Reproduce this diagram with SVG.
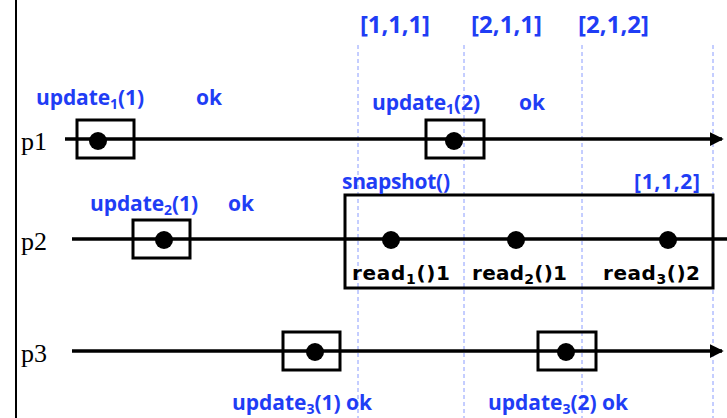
<svg xmlns="http://www.w3.org/2000/svg" width="727" height="418" viewBox="0 0 727 418">
<style>
.proc{stroke:#000;stroke-width:3.5;fill:none}
.box{stroke:#000;stroke-width:3;fill:none}
.dot{fill:#000}
.dash{stroke:#8a9cff;stroke-width:1;stroke-dasharray:4,3}
.blue{font-family:"Open Sans","DejaVu Sans",sans-serif;font-weight:bold;font-size:21px;fill:#1f3df5}
.vec{font-family:"Open Sans","DejaVu Sans",sans-serif;font-weight:bold;font-size:24px;fill:#1f3df5}
.rd{font-family:"DejaVu Sans","Liberation Sans",sans-serif;font-weight:bold;font-size:20px;fill:#000}
.pl{font-family:"Liberation Serif","Times New Roman",serif;font-size:26px;fill:#000}
.sub{font-size:14px}
</style>
<defs>
<marker id="arr" markerWidth="4" markerHeight="4" refX="3.5" refY="2" orient="auto" markerUnits="strokeWidth">
<path d="M0,0 L4,2 L0,4 z" fill="#000"/>
</marker>
</defs>
<rect width="727" height="418" fill="#fff"/>
<line x1="16" y1="0" x2="16" y2="418" stroke="#000" stroke-width="2"/>
<g id="timelines">
<line class="dash" x1="358" y1="45" x2="358" y2="418"/>
<line class="dash" x1="464" y1="45" x2="464" y2="418"/>
<line class="dash" x1="582" y1="45" x2="582" y2="418"/>
<line class="dash" x1="713" y1="45" x2="713" y2="418"/>
<text class="vec" x="360" y="33" textLength="70" lengthAdjust="spacing">[1,1,1]</text>
<text class="vec" x="471" y="33" textLength="71" lengthAdjust="spacing">[2,1,1]</text>
<text class="vec" x="578" y="33" textLength="71" lengthAdjust="spacing">[2,1,2]</text>
</g>
<g id="connectors">
<line class="proc" x1="65" y1="139" x2="722" y2="139" marker-end="url(#arr)"/>
<line class="proc" x1="72" y1="239" x2="727" y2="239"/>
<line class="proc" x1="72" y1="351" x2="722" y2="351" marker-end="url(#arr)"/>
</g>
<g id="p1">
<text class="pl" x="21" y="150">p1</text>
<rect class="box" x="77" y="120" width="57" height="38"/>
<circle class="dot" cx="98" cy="141" r="9"/>
<text class="blue" x="36" y="105" textLength="108">update<tspan class="sub" dy="4">1</tspan><tspan dy="-4">(1)</tspan></text>
<text class="blue" x="196" y="105">ok</text>
<rect class="box" x="426" y="120" width="58" height="38"/>
<circle class="dot" cx="454" cy="141" r="9"/>
<text class="blue" x="372" y="110" textLength="108">update<tspan class="sub" dy="4">1</tspan><tspan dy="-4">(2)</tspan></text>
<text class="blue" x="519" y="110">ok</text>
</g>
<g id="p2">
<text class="pl" x="21" y="250">p2</text>
<rect class="box" x="133" y="220" width="57" height="38"/>
<circle class="dot" cx="164" cy="240" r="9"/>
<text class="blue" x="90" y="211" textLength="108">update<tspan class="sub" dy="4">2</tspan><tspan dy="-4">(1)</tspan></text>
<text class="blue" x="228" y="211">ok</text>
</g>
<g id="snapshot">
<rect class="box" x="345" y="195" width="368" height="93"/>
<text class="blue" x="342" y="189" textLength="108">snapshot()</text>
<text class="blue" x="634" y="189" textLength="66">[1,1,2]</text>
<circle class="dot" cx="391" cy="240" r="9"/>
<circle class="dot" cx="516" cy="240" r="9"/>
<circle class="dot" cx="668" cy="240" r="9"/>
<text class="rd" x="352" y="280" textLength="98">read<tspan class="sub" dy="4">1</tspan><tspan dy="-4">()1</tspan></text>
<text class="rd" x="472" y="280" textLength="95">read<tspan class="sub" dy="4">2</tspan><tspan dy="-4">()1</tspan></text>
<text class="rd" x="603" y="280" textLength="97">read<tspan class="sub" dy="4">3</tspan><tspan dy="-4">()2</tspan></text>
</g>
<g id="p3">
<text class="pl" x="21" y="362">p3</text>
<rect class="box" x="283" y="332" width="57" height="38"/>
<circle class="dot" cx="315" cy="352" r="9"/>
<text class="blue" x="232" y="410" textLength="140">update<tspan class="sub" dy="4">3</tspan><tspan dy="-4">(1) ok</tspan></text>
<rect class="box" x="538" y="332" width="58" height="38"/>
<circle class="dot" cx="566" cy="352" r="9"/>
<text class="blue" x="488" y="410" textLength="140">update<tspan class="sub" dy="4">3</tspan><tspan dy="-4">(2) ok</tspan></text>
</g>
</svg>
